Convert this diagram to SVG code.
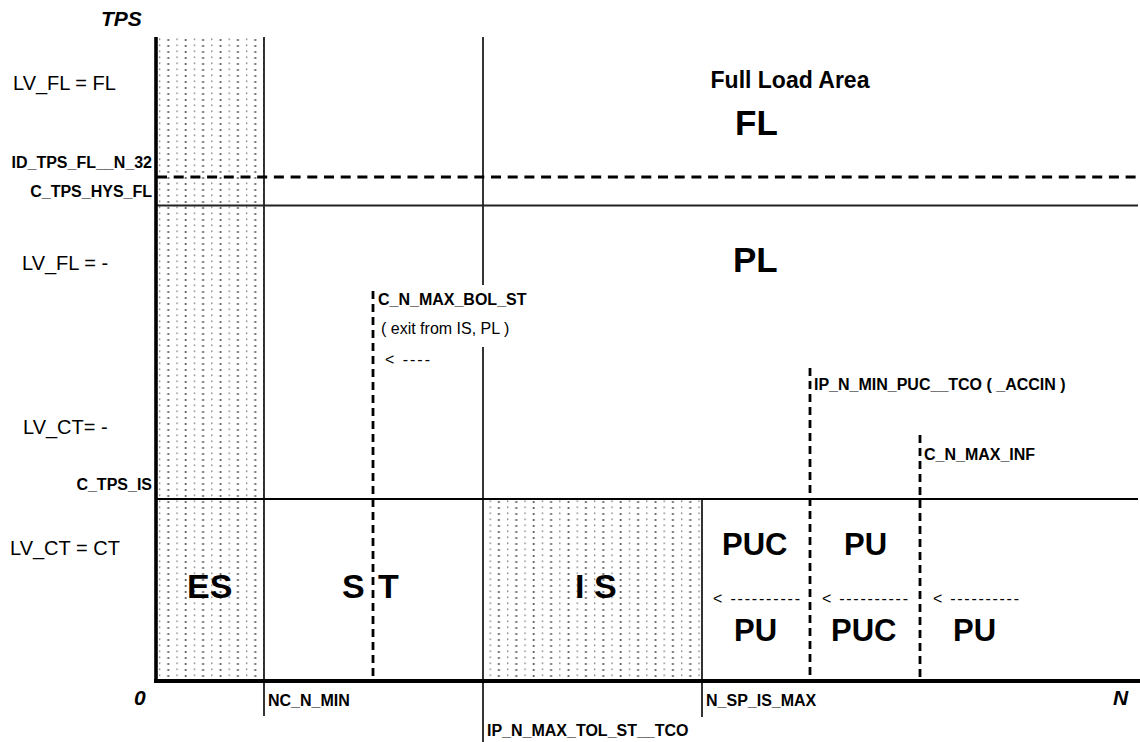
<svg xmlns="http://www.w3.org/2000/svg" width="1140" height="742" viewBox="0 0 1140 742">
<style>
text{font-family:"Liberation Sans",Arial,sans-serif;fill:#000}
.lbl{font-size:16px;font-weight:bold}
.reg{font-size:16px}
.lv{font-size:20px}
.big{font-size:34px;font-weight:bold}
.pu{font-size:31px;font-weight:bold}
.ax{font-size:21px;font-weight:bold;font-style:italic}
.solid{stroke:#000;fill:none;stroke-width:1.6}
.dashv{stroke:#000;fill:none;stroke-width:2.8;stroke-dasharray:8 5}
</style>
<defs>
<pattern id="dots" patternUnits="userSpaceOnUse" x="158" y="37" width="17.4" height="12">
<rect x="1.2" y="1.4" width="1" height="1.8" fill="#666"/>
<rect x="1.2" y="7.4" width="1" height="1.8" fill="#666"/>
<circle cx="10.3" cy="3" r="1.1" fill="#555"/>
<circle cx="10.3" cy="9" r="1.1" fill="#555"/>
</pattern>
</defs>
<rect width="1140" height="742" fill="#fff"/>

<g id="region-es"><rect x="157" y="37" width="107" height="644" fill="url(#dots)"/></g>
<g id="region-is"><rect x="483" y="499" width="219" height="182" fill="url(#dots)"/></g>

<g id="connectors">
<line class="solid" x1="264" y1="37" x2="264" y2="716"/>
<line class="solid" x1="483" y1="37" x2="483" y2="742"/>
<line class="solid" x1="702" y1="499" x2="702" y2="717"/>
<line x1="157" y1="177" x2="1140" y2="177" stroke="#000" stroke-width="3" stroke-dasharray="10 6.7"/>
<line x1="157" y1="205.5" x2="1138" y2="205.5" stroke="#222" stroke-width="1.8"/>
<line x1="157" y1="499" x2="1138" y2="499" stroke="#000" stroke-width="2"/>
<line class="dashv" x1="373" y1="291" x2="373" y2="680"/>
<line class="dashv" x1="810" y1="368" x2="810" y2="680"/>
<line class="dashv" x1="920" y1="435" x2="920" y2="680"/>
</g>

<g id="axes">
<line x1="156" y1="37" x2="156" y2="683" stroke="#000" stroke-width="3.6"/>
<line x1="154" y1="681" x2="1140" y2="681" stroke="#000" stroke-width="4"/>
<text class="ax" x="101" y="26">TPS</text>
<text class="ax" x="134" y="705">0</text>
<text class="ax" x="1113" y="705">N</text>
</g>

<g id="left-labels">
<text class="lv" x="13" y="90">LV_FL = FL</text>
<text class="lbl" x="152" y="168" text-anchor="end">ID_TPS_FL__N_32</text>
<text class="lbl" x="152" y="197" text-anchor="end">C_TPS_HYS_FL</text>
<text class="lv" x="22" y="270">LV_FL = -</text>
<text class="lv" x="23" y="434">LV_CT= -</text>
<text class="lbl" x="152" y="490" text-anchor="end">C_TPS_IS</text>
<text class="lv" x="10" y="555">LV_CT = CT</text>
</g>

<g id="node-fl">
<text x="790" y="88" text-anchor="middle" style="font-size:23px;font-weight:bold">Full Load Area</text>
<text x="735" y="135" style="font-size:35px;font-weight:bold">FL</text>
</g>
<g id="node-pl"><text x="733" y="272" style="font-size:35px;font-weight:bold">PL</text></g>

<g id="node-bol">
<rect x="376" y="285" width="151" height="62" fill="#fff"/>
<text class="lbl" x="378" y="305">C_N_MAX_BOL_ST</text>
<text class="reg" x="381" y="334">( exit from IS, PL )</text>
<text class="reg" x="385" y="365" textLength="45" lengthAdjust="spacing">&lt;  ----</text>
</g>

<g id="node-puc-label"><text class="lbl" x="814" y="390">IP_N_MIN_PUC__TCO ( _ACCIN )</text></g>
<g id="node-inf-label"><text class="lbl" x="924" y="460">C_N_MAX_INF</text></g>

<g id="node-es"><text class="big" x="187" y="598">ES</text></g>
<g id="node-st"><text class="big"><tspan x="342" y="598">S</tspan><tspan x="378" y="598">T</tspan></text></g>
<g id="node-is"><text class="big" x="575" y="598">I S</text></g>

<g id="node-puc1">
<text class="pu" x="722" y="555">PUC</text>
<text class="reg" x="713" y="604" textLength="87" lengthAdjust="spacing">&lt; ----------</text>
<text class="pu" x="734" y="641">PU</text>
</g>
<g id="node-pu2">
<text class="pu" x="844" y="555">PU</text>
<text class="reg" x="822" y="604" textLength="86" lengthAdjust="spacing">&lt; ----------</text>
<text class="pu" x="831" y="641">PUC</text>
</g>
<g id="node-pu3">
<text class="reg" x="933" y="604" textLength="86" lengthAdjust="spacing">&lt; ----------</text>
<text class="pu" x="953" y="641">PU</text>
</g>

<g id="axis-labels">
<text class="lbl" x="268" y="706">NC_N_MIN</text>
<text class="lbl" x="487" y="736">IP_N_MAX_TOL_ST__TCO</text>
<text class="lbl" x="706" y="706">N_SP_IS_MAX</text>
</g>
</svg>
